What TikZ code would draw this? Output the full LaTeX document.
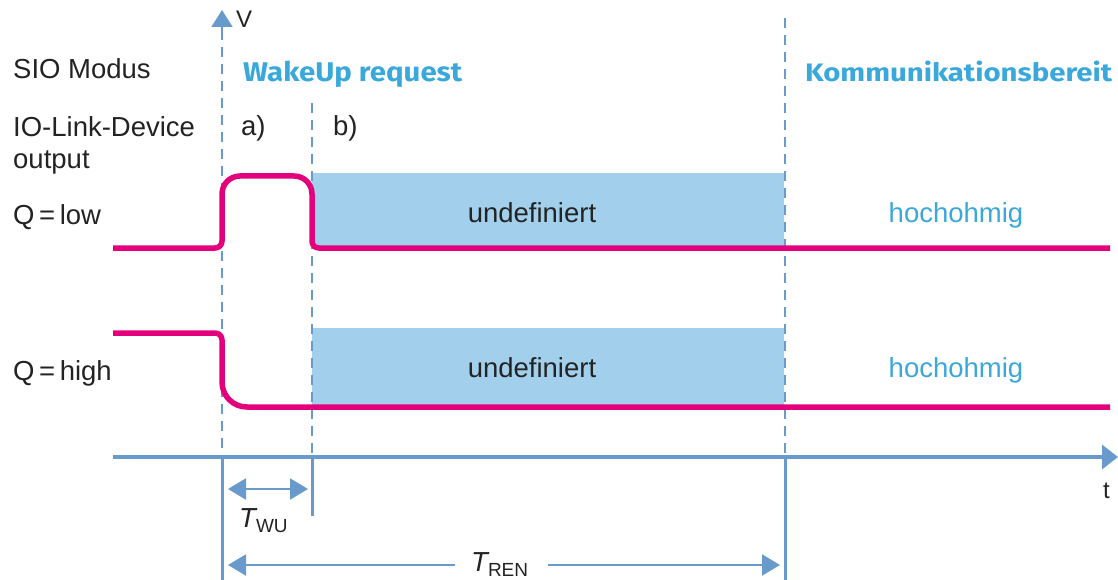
\documentclass[tikz,border=0pt]{standalone}
\usepackage{graphicx}
\usepackage{fontspec}
\setmainfont{Liberation Sans}
\newfontfamily\headfont{Fira Sans}
\usetikzlibrary{arrows.meta}

\definecolor{axisblue}{RGB}{104,155,204}
\definecolor{sigmagenta}{RGB}{228,0,124}
\definecolor{zonefill}{RGB}{162,208,236}
\definecolor{headblue}{RGB}{58,168,219}
\definecolor{labelgray}{RGB}{35,35,35}

\tikzset{
  lbl/.style={anchor=base west, inner sep=0pt, text=labelgray,
    font=\fontsize{27.5}{27.5}\selectfont},
  zonetext/.style={anchor=base, inner sep=0pt,
    font=\fontsize{27.5}{27.5}\selectfont},
  heading/.style={anchor=base west, inner sep=0pt, text=headblue},
  signal/.style={draw=sigmagenta, line width=5.5pt, line join=round},
  guide/.style={draw=axisblue, line width=2pt, dash pattern=on 10pt off 7pt},
  axisline/.style={draw=axisblue, line width=3.5pt},
  tick/.style={draw=axisblue, line width=3pt},
  span/.style={draw=axisblue, line width=2pt},
  bigtip/.tip={Triangle[length=18pt,width=21pt]}
}
\newcommand{\tsub}[1]{\raisebox{-5pt}{\fontsize{19}{19}\selectfont #1}}

\begin{document}
\begin{tikzpicture}[x=1pt,y=-1pt]
\useasboundingbox (0,0) rectangle (1118,580);

% undefined-state zones
\fill[zonefill] (312,173) rectangle (784,248);
\fill[zonefill] (312,328) rectangle (784,407);

% phase boundaries
\coordinate (vtip) at (222,10);
\coordinate (vfoot) at (222,30);
\coordinate (g1top) at (222,30);
\coordinate (g1bot) at (222,457);
\coordinate (g2top) at (312,103);
\coordinate (g2bot) at (312,457);
\coordinate (g3top) at (785,18);
\coordinate (g3bot) at (785,457);
\draw[guide] (g1top) -- (g1bot);
\draw[guide] (g2top) -- (g2bot);
\draw[guide] (g3top) -- (g3bot);

% voltage axis tip
\draw[span, -{Triangle[length=17pt,width=21pt]}] (vfoot) -- (vtip);
\node[lbl, font=\fontsize{24}{24}\selectfont] (vlabel) at (236,28) {V};

% time axis
\coordinate (tstart) at (113,457);
\coordinate (tend) at (1118,457);
\draw[axisline, -{Triangle[length=16pt,width=24pt]}] (tstart) -- (tend);
\node[lbl, font=\fontsize{24}{24}\selectfont] (tlabel) at (1103,498) {t};

% markers below the time axis
\draw[tick] (222,457) -- (222,580);
\draw[tick] (312,457) -- (312,516);
\draw[tick] (785,457) -- (785,580);

% T_WU
\coordinate (wuL) at (228,489);
\coordinate (wuR) at (308,489);
\draw[span, bigtip-bigtip] (wuL) -- (wuR);
\node[lbl] (twu) at (239,527) {\itshape T\normalfont\tsub{WU}};

% T_REN
\coordinate (renL) at (228,565);
\coordinate (renR) at (780,565);
\coordinate (gapL) at (455,565);
\coordinate (gapR) at (548,565);
\node[lbl] (tren) at (471,571) {\itshape T\normalfont\tsub{REN}};
\draw[span, -bigtip] (gapL) -- (renL);
\draw[span, -bigtip] (gapR) -- (renR);

% Q = low signal
\draw[signal] (113,248) -- (215,248) .. controls (219,248) and (222,245) .. (222,241)
  -- (222,194) .. controls (222,184) and (230,176) .. (240,176) -- (294,176)
  .. controls (304,176) and (312,184) .. (312,194) -- (312,241)
  .. controls (312,245) and (315,248) .. (319,248) -- (1110,248);

% Q = high signal
\draw[signal] (113,333) -- (215,333) .. controls (219,333) and (222,336) .. (222,340)
  -- (222,382) .. controls (222,396) and (233,407) .. (247,407) -- (1110,407);

% row labels
\node[lbl] (sio) at (13,79) {SIO Modus};
\node[lbl] (dev) at (13,137) {IO-Link-Device};
\node[lbl] (out) at (13,168) {output};
\node[lbl] (qlow) at (13,224) {Q\,=\,low};
\node[lbl] (qhigh) at (13,380) {Q\,=\,high};

% phase labels
\node[heading] (wake) at (243,82)
  {\resizebox{219pt}{20.5pt}{\headfont\bfseries\fontsize{27}{27}\selectfont WakeUp request}};
\node[heading] (komm) at (805,82)
  {\resizebox{307pt}{20.5pt}{\headfont\bfseries\fontsize{27}{27}\selectfont Kommunikationsbereit}};
\node[lbl] (pa) at (241,136) {a)};
\node[lbl] (pb) at (333,136) {b)};

% zone texts
\node[zonetext, text=labelgray] (u1) at (532,222) {undefiniert};
\node[zonetext, text=labelgray] (u2) at (532,377) {undefiniert};
\node[zonetext, text=headblue] (h1) at (956,222) {hochohmig};
\node[zonetext, text=headblue] (h2) at (956,377) {hochohmig};
\end{tikzpicture}
\end{document}
